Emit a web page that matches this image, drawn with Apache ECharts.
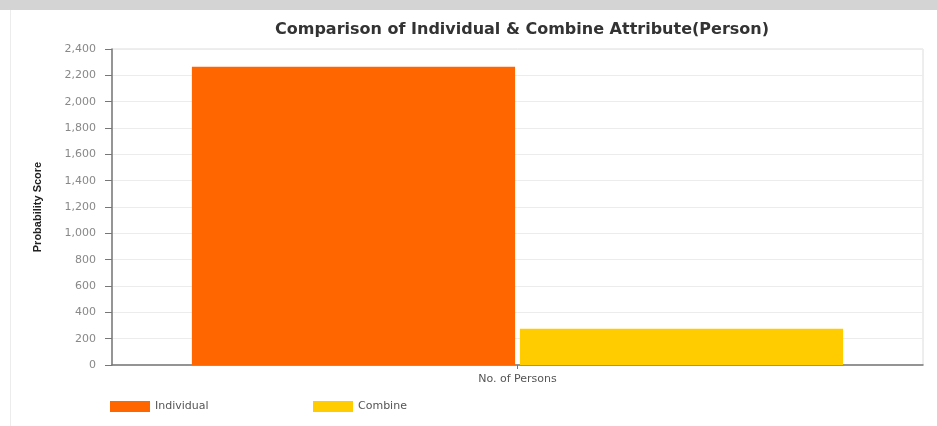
<!DOCTYPE html>
<html>
<head>
<meta charset="utf-8">
<title>Comparison of Individual &amp; Combine Attribute(Person)</title>
<script src="https://cdn.jsdelivr.net/npm/echarts@6/dist/echarts.min.js"></script>
<style>
  html, body { margin: 0; padding: 0; background: #ffffff; }
  #chart { width: 937px; height: 426px; }
</style>
</head>
<body>
<div id="chart"></div>
<script>
// Chart data
const categories = ['No. of Persons'];
const seriesNames = ['Individual', 'Combine'];
const individualValues = [2265];
const combineValues = [275];
const yTicks = [0, 200, 400, 600, 800, 1000, 1200, 1400, 1600, 1800, 2000, 2200, 2400];

const COLORS = ['#FF6600', '#FFCC00'];
const FONT = 'DejaVu Sans, Verdana, sans-serif';

const chart = echarts.init(document.getElementById('chart'), null, { renderer: 'canvas' });

const legendBase = {
  orient: 'horizontal',
  top: 396,
  itemWidth: 40,
  itemHeight: 11,
  itemGap: 8,
  icon: 'rect',
  textStyle: { color: '#555', fontFamily: FONT, fontSize: 11 }
};

chart.setOption({
  backgroundColor: '#ffffff',
  animation: false,
  color: COLORS,
  title: {
    text: 'Comparison of Individual & Combine Attribute(Person)',
    left: 517,
    textAlign: 'center',
    top: 17,
    textStyle: { color: '#333', fontFamily: FONT, fontWeight: 'bold', fontSize: 16 }
  },
  legend: [
    Object.assign({ left: 105, data: [seriesNames[0]] }, legendBase),
    Object.assign({ left: 308, data: [seriesNames[1]] }, legendBase)
  ],
  grid: {
    left: 112, right: 14, top: 49, bottom: 61,
    show: true, borderColor: '#dcdcdc', borderWidth: 1,
    containLabel: false
  },
  xAxis: {
    type: 'category',
    data: categories,
    axisLine: { lineStyle: { color: '#777', width: 1.5 } },
    axisTick: { show: true, alignWithLabel: true, length: 4, lineStyle: { color: '#777' } },
    axisLabel: { color: '#555', fontFamily: FONT, fontSize: 11, margin: 9 }
  },
  yAxis: {
    type: 'value',
    min: yTicks[0],
    max: yTicks[yTicks.length - 1],
    interval: yTicks[1] - yTicks[0],
    name: 'Probability Score',
    nameLocation: 'middle',
    nameGap: 69,
    nameRotate: 90,
    nameTextStyle: { color: '#222', fontFamily: 'Liberation Sans Narrow, Liberation Sans, Arial, sans-serif', fontWeight: 'bold', fontSize: 11 },
    axisLine: { show: true, lineStyle: { color: '#777', width: 1.5 } },
    axisTick: { show: true, length: 7, lineStyle: { color: '#777' } },
    axisLabel: {
      color: '#888', fontFamily: FONT, fontSize: 11, margin: 16,
      formatter: v => v.toLocaleString('en-US')
    },
    splitLine: { show: true, lineStyle: { color: '#ececec' } }
  },
  series: [
    {
      name: seriesNames[0],
      type: 'bar',
      data: individualValues,
      barGap: '1.5%',
      barCategoryGap: '19.7%',
      itemStyle: { color: COLORS[0] }
    },
    {
      name: seriesNames[1],
      type: 'bar',
      data: combineValues,
      barGap: '1.5%',
      barCategoryGap: '19.7%',
      itemStyle: { color: COLORS[1] }
    }
  ],
  graphic: [
    // grey header strip and faint page edge
    { type: 'rect', left: 0, top: 0, shape: { width: 937, height: 10 }, style: { fill: '#d4d4d4' }, silent: true },
    { type: 'line', shape: { x1: 10.5, y1: 10, x2: 10.5, y2: 426 }, style: { stroke: '#ececec', lineWidth: 1 }, silent: true }
  ]
});
</script>
</body>
</html>
